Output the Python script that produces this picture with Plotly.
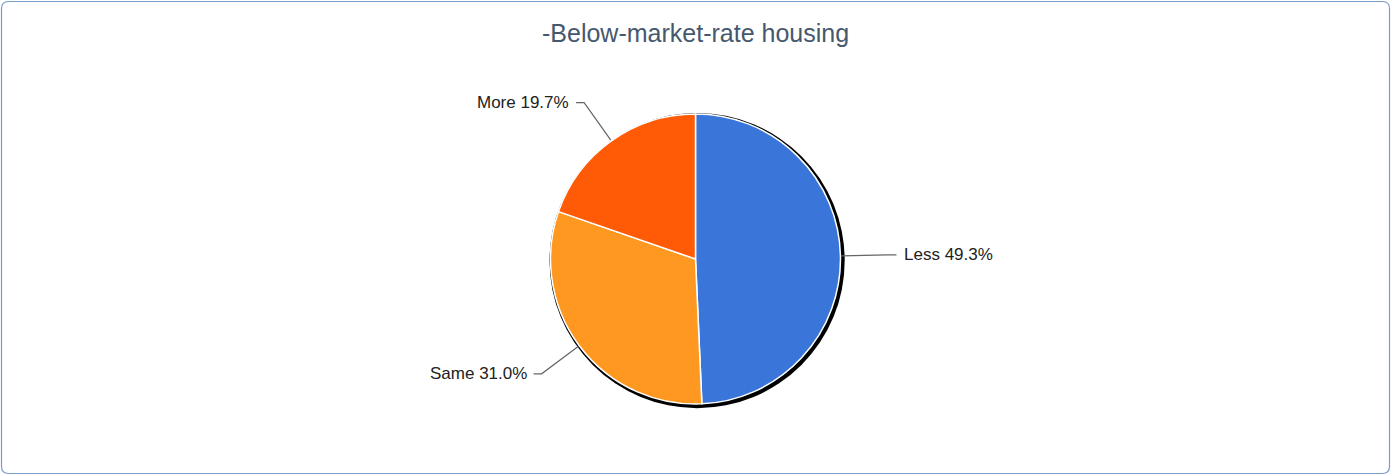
import math
import plotly.graph_objects as go

# ---- data ----
labels = ["Less", "Same", "More"]
values = [49.3, 31.0, 19.7]
colors = ["#3a76d9", "#ff9821", "#ff5a05"]
title_text = "-Below-market-rate housing"

# ---- layout geometry (pixels) ----
W, H = 1391, 475
ML, MR, MT, MB = 0, 0, 114, 71
PW, PH = W - ML - MR, H - MT - MB
CX, CY = ML + PW / 2, MT + PH / 2
R = min(PW, PH) / 2


def px(x):
    return (x - ML) / PW


def py(y):
    return (H - MB - y) / PH


fig = go.Figure()
fig.add_trace(go.Pie(
    labels=labels, values=values, sort=False, direction="clockwise", rotation=0,
    marker=dict(colors=colors, line=dict(color="white", width=1.5)),
    textinfo="none", hoverinfo="label+percent", showlegend=False,
    domain=dict(x=[0, 1], y=[0, 1]),
))

shapes = []
# shadow / outline circle behind pie
sx, sy, sr = CX + 1.6, CY + 1.6, R + 2.6
shapes.append(dict(type="circle", xref="paper", yref="paper", layer="below",
                   x0=px(sx - sr), x1=px(sx + sr), y0=py(sy + sr), y1=py(sy - sr),
                   fillcolor="black", line=dict(width=0)))

# outer rounded border
x0, y0, x1, y1, rr = 1.5, 1.5, W - 1.5, H - 1.5, 7
path = (f"M {px(x0+rr)},{py(y0)} L {px(x1-rr)},{py(y0)} "
        f"Q {px(x1)},{py(y0)} {px(x1)},{py(y0+rr)} L {px(x1)},{py(y1-rr)} "
        f"Q {px(x1)},{py(y1)} {px(x1-rr)},{py(y1)} L {px(x0+rr)},{py(y1)} "
        f"Q {px(x0)},{py(y1)} {px(x0)},{py(y1-rr)} L {px(x0)},{py(y0+rr)} "
        f"Q {px(x0)},{py(y0)} {px(x0+rr)},{py(y0)} Z")
shapes.append(dict(type="path", xref="paper", yref="paper", path=path,
                   line=dict(color="#7b9bcb", width=1.2), layer="above"))

annotations = []
total = sum(values)
cum = 0
for lab, v in zip(labels, values):
    mid = (cum + v / 2) / total * 2 * math.pi
    cum += v
    sa, ca = math.sin(mid), math.cos(mid)
    ex, ey = CX + (R + 1) * sa, CY - (R + 1) * ca
    kx, ky = CX + (R + 47) * sa, CY - (R + 47) * ca
    right = sa > 0
    hx = kx + (9 if right else -8)
    shapes.append(dict(type="path", xref="paper", yref="paper",
                       path=f"M {px(ex)},{py(ey)} L {px(kx)},{py(ky)} L {px(hx)},{py(ky)}",
                       line=dict(color="#666666", width=1.2)))
    annotations.append(dict(
        x=px(hx + (6 if right else -5)), y=py(ky), xref="paper", yref="paper",
        text=f"{lab} {v:.1f}%", showarrow=False,
        xanchor="left" if right else "right", yanchor="middle",
        font=dict(family="Liberation Sans, Arial, sans-serif", size=17, color="#222222"),
    ))

annotations.append(dict(
    x=0.5, y=py(33), xref="paper", yref="paper", text=title_text, showarrow=False,
    xanchor="center", yanchor="middle",
    font=dict(family="Liberation Sans, Arial, sans-serif", size=25, color="#46586e"),
))

fig.update_layout(
    width=W, height=H, margin=dict(l=ML, r=MR, t=MT, b=MB),
    paper_bgcolor="white", plot_bgcolor="white",
    shapes=shapes, annotations=annotations, showlegend=False,
)

fig.write_html("out.html", config={"displayModeBar": False},
               post_script="document.body.style.margin='0';")
